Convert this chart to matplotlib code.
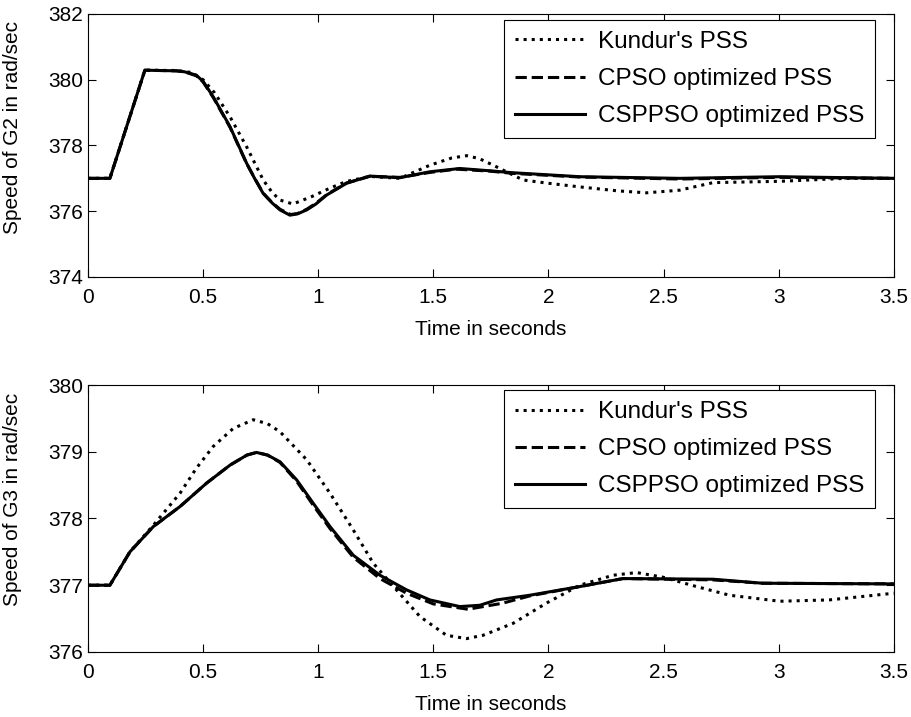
import numpy as np
import matplotlib
matplotlib.use("Agg")
import matplotlib.pyplot as plt

plt.rcParams['font.family'] = ['Liberation Sans', 'DejaVu Sans']

# ---- G2 speed (top panel) ----
t2_kundur = [0, 0.095, 0.247, 0.385, 0.45, 0.50, 0.55, 0.617, 0.689, 0.761, 0.80, 0.834, 0.89,
             0.97, 1.05, 1.12, 1.224, 1.355, 1.485, 1.58, 1.645, 1.70, 1.76, 1.89, 2.0,
             2.136, 2.3, 2.426, 2.57, 2.715, 3.005, 3.29, 3.5]
g2_kundur = [377.0, 377.0, 380.29, 380.28, 380.22, 380.0, 379.6, 378.87, 377.96, 376.95, 376.57, 376.34, 376.22,
             376.44, 376.7, 376.9, 377.06, 377.0, 377.4, 377.62, 377.69, 377.6, 377.4, 376.95, 376.85,
             376.74, 376.62, 376.56, 376.64, 376.87, 376.91, 377.0, 377.0]

t2_cpso = [0, 0.095, 0.247, 0.385, 0.42, 0.47, 0.50, 0.544, 0.617, 0.689, 0.725, 0.761, 0.80, 0.834, 0.88,
           0.91, 0.95, 0.99, 1.036, 1.123, 1.224, 1.355, 1.485, 1.60, 1.745, 1.847, 2.136, 2.57, 3.005, 3.5]
g2_cpso = [377.0, 377.0, 380.29, 380.27, 380.24, 380.12, 379.93, 379.46, 378.55, 377.45, 376.99, 376.55, 376.26, 376.06, 375.9,
           375.93, 376.06, 376.24, 376.5, 376.86, 377.06, 377.03, 377.18, 377.28, 377.22, 377.15, 377.04, 376.98, 377.03, 377.0]

t2_csppso = [0, 0.095, 0.247, 0.385, 0.42, 0.47, 0.50, 0.544, 0.617, 0.689, 0.725, 0.761, 0.80, 0.834, 0.877,
             0.91, 0.95, 0.99, 1.036, 1.123, 1.224, 1.355, 1.485, 1.615, 1.745, 1.847, 2.136, 2.57, 3.005, 3.5]
g2_csppso = [377.0, 377.0, 380.29, 380.27, 380.24, 380.14, 379.95, 379.48, 378.57, 377.46, 376.98, 376.54, 376.25, 376.04, 375.88,
             375.92, 376.04, 376.22, 376.49, 376.85, 377.07, 377.02, 377.2, 377.30, 377.23, 377.17, 377.05, 377.0, 377.05, 377.0]

# ---- G3 speed (bottom panel) ----
t3_kundur = [0, 0.095, 0.182, 0.284, 0.40, 0.47, 0.544, 0.631, 0.718, 0.78, 0.834, 0.95, 1.051,
             1.152, 1.239, 1.34, 1.442, 1.557, 1.644, 1.716, 1.847, 1.99, 2.136, 2.281, 2.383,
             2.498, 2.643, 2.787, 3.005, 3.22, 3.5]
g3_kundur = [377.0, 377.0, 377.5, 377.9, 378.38, 378.75, 379.08, 379.35, 379.48, 379.42, 379.3, 378.88, 378.38,
             377.83, 377.33, 376.93, 376.53, 376.25, 376.2, 376.25, 376.43, 376.73, 377.0, 377.15, 377.19,
             377.12, 376.98, 376.85, 376.76, 376.78, 376.88]

t3_cpso = [0, 0.095, 0.182, 0.284, 0.40, 0.515, 0.617, 0.69, 0.732, 0.78, 0.834, 0.906, 0.978, 1.051,
           1.152, 1.268, 1.384, 1.5, 1.65, 1.8, 1.919, 2.136, 2.324, 2.715, 2.93, 3.5]
g3_cpso = [377.0, 377.0, 377.5, 377.88, 378.18, 378.53, 378.8, 378.95, 378.99, 378.95, 378.84, 378.56, 378.2, 377.85,
           377.42, 377.1, 376.88, 376.72, 376.64, 376.73, 376.84, 376.98, 377.1, 377.08, 377.03, 377.02]

t3_csppso = [0, 0.095, 0.182, 0.284, 0.40, 0.515, 0.617, 0.69, 0.732, 0.78, 0.834, 0.906, 0.978, 1.051,
             1.152, 1.268, 1.384, 1.485, 1.615, 1.702, 1.775, 1.919, 2.136, 2.324, 2.715, 2.93, 3.5]
g3_csppso = [377.0, 377.0, 377.5, 377.88, 378.18, 378.53, 378.8, 378.95, 378.99, 378.95, 378.85, 378.58, 378.23, 377.88,
             377.45, 377.15, 376.93, 376.78, 376.68, 376.7, 376.78, 376.85, 376.98, 377.1, 377.09, 377.03, 377.02]

labels = ["Kundur's PSS", "CPSO optimized PSS", "CSPPSO optimized PSS"]
xticks = [0, 0.5, 1, 1.5, 2, 2.5, 3, 3.5]
xticklabels = ['0', '0.5', '1', '1.5', '2', '2.5', '3', '3.5']

fig = plt.figure(figsize=(9.12, 7.17), dpi=100)
ax1 = fig.add_axes([0.0965, 0.6137, 0.8835, 0.3668])
ax2 = fig.add_axes([0.0965, 0.0907, 0.8835, 0.3723])


def draw(ax, data, ylim, yticks, ylabel, leg_anchor, ylab_y):
    for (t, v), ls, lab in zip(data, [':', '--', '-'], labels):
        ax.plot(t, v, color='black', linestyle=ls, linewidth=2.2, label=lab)
    ax.set_xlim(0, 3.5)
    ax.set_ylim(*ylim)
    ax.set_xticks(xticks)
    ax.set_xticklabels(xticklabels)
    ax.set_yticks(yticks)
    ax.tick_params(direction='in', top=True, right=True, labelsize=15, length=6, width=0.8)
    ax.tick_params(axis='x', pad=8)
    ax.set_xlabel("Time in seconds", fontsize=15, labelpad=9)
    ax.set_ylabel(ylabel, fontsize=15)
    ax.yaxis.set_label_coords(-0.082, ylab_y)
    for sp in ax.spines.values():
        sp.set_linewidth(0.8)
    leg = ax.legend(loc='upper right', bbox_to_anchor=leg_anchor, fontsize=17.5, frameon=True,
                    fancybox=False, edgecolor='black', framealpha=1, handlelength=2.9,
                    handletextpad=0.5, labelspacing=0.62, borderaxespad=0, borderpad=0.45)
    leg.get_frame().set_linewidth(0.8)


draw(ax1, [(t2_kundur, g2_kundur), (t2_cpso, g2_cpso), (t2_csppso, g2_csppso)],
     (374, 382), [374, 376, 378, 380, 382], "Speed of G2 in rad/sec", (0.9765, 0.977), 0.567)
draw(ax2, [(t3_kundur, g3_kundur), (t3_cpso, g3_cpso), (t3_csppso, g3_csppso)],
     (376, 380), [376, 377, 378, 379, 380], "Speed of G3 in rad/sec", (0.9765, 0.981), 0.57)

fig.savefig('out.png', dpi=100)
